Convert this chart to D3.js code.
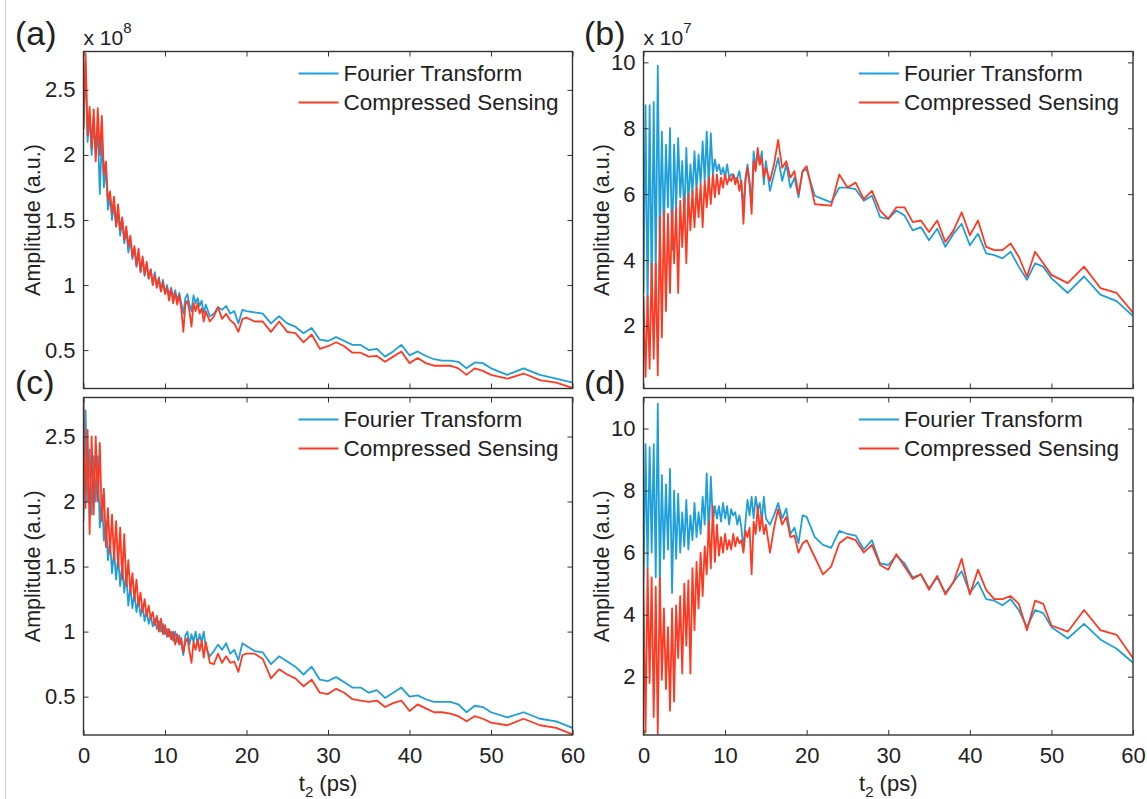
<!DOCTYPE html>
<html>
<head>
<meta charset="utf-8">
<script src="https://cdn.jsdelivr.net/npm/d3@7"></script>
<style>
  body { margin: 0; background: #fff; }
  svg { display: block; }
  text { font-family: "Liberation Sans", Arial, Helvetica, sans-serif; fill: #222; }
</style>
</head>
<body>
<svg id="chart" width="1147" height="799"></svg>
<script>
// t2 sampling (ps), shared by all four panels
const t2 = [0,0.25,0.5,0.75,1,1.25,1.5,1.75,2,2.25,2.5,2.75,3,3.25,3.5,3.75,4,4.25,4.5,4.75,
  5,5.25,5.5,5.75,6,6.25,6.5,6.75,7,7.25,7.5,7.75,8,8.25,8.5,8.75,9,9.25,9.5,9.75,
  10,10.25,10.5,10.75,11,11.25,11.5,11.75,12,12.25,12.5,12.75,13,13.25,13.5,13.75,14,14.25,14.5,14.75,15,
  15.5,16,16.5,17,17.5,18,18.5,19,19.5,
  20,21,22,23,24,25,26,27,28,29,30,31,32,33,34,35,36,37,38,39,40,41,42,43,44,45,46,47,48,49,50,
  52,54,56,58,60];

// (a) x 10^8
const ftA = [2.2,2.72,2.1,2.3,2.0,2.25,2.0,2.2,1.7,2.15,
  1.75,1.9,1.58,1.68,1.5,1.62,1.45,1.55,1.38,1.5,
  1.32,1.42,1.25,1.35,1.2,1.28,1.14,1.25,1.1,1.2,
  1.07,1.16,1.05,1.12,1.01,1.1,0.98,1.06,0.96,1.04,
  0.94,1.0,0.92,0.98,0.9,0.96,0.88,0.94,0.86,0.78,
  0.9,0.93,0.85,0.8,0.92,0.86,0.9,0.84,0.88,0.78,
  0.85,
  0.76,0.78,0.83,0.81,0.84,0.78,0.80,0.705,0.81,
  0.80,0.79,0.78,0.705,0.76,0.705,0.68,0.63,0.67,0.58,0.57,0.60,0.57,0.54,0.54,0.50,
  0.51,0.45,0.49,0.54,0.46,0.49,0.455,0.43,0.42,0.42,0.41,0.36,0.405,0.40,0.36,
  0.31,0.36,0.31,0.28,0.25];
const csA = [2.2,2.78,2.15,2.37,2.05,2.35,1.95,2.36,2.0,2.3,
  1.85,1.95,1.65,1.72,1.55,1.68,1.45,1.62,1.42,1.52,
  1.35,1.45,1.3,1.38,1.22,1.3,1.15,1.28,1.1,1.22,
  1.08,1.18,1.05,1.12,1.0,1.08,0.98,1.05,0.95,1.02,
  0.93,0.98,0.88,0.97,0.86,0.94,0.85,0.92,0.82,0.64,
  0.85,0.88,0.8,0.68,0.86,0.8,0.86,0.78,0.82,0.72,
  0.8,
  0.72,0.76,0.83,0.74,0.78,0.73,0.705,0.64,0.74,
  0.75,0.72,0.72,0.64,0.72,0.64,0.63,0.56,0.62,0.51,0.53,0.56,0.53,0.48,0.48,0.45,
  0.455,0.41,0.45,0.49,0.40,0.44,0.40,0.38,0.38,0.38,0.36,0.31,0.36,0.34,0.31,
  0.28,0.32,0.27,0.25,0.21];

// (b) x 10^7
const ftB = [3.0,8.7,2.4,8.7,3.0,8.8,3.5,9.9,4.5,7.9,
  4.8,7.5,5.6,8.0,4.3,7.5,5.5,7.7,5.9,7.0,
  5.2,7.4,5.7,6.9,6.0,7.3,6.1,7.2,6.3,7.6,
  6.4,7.9,6.2,7.85,6.6,7.05,6.7,6.9,6.6,6.8,
  6.5,6.9,6.5,6.6,6.6,6.45,6.5,6.7,6.3,5.6,
  6.5,6.9,6.4,5.7,7.3,6.8,7.3,6.9,7.3,6.3,
  7.0,
  6.1,6.6,7.1,6.4,6.9,6.2,6.5,5.9,6.7,
  6.75,5.95,5.85,5.75,6.2,6.2,6.15,5.8,5.95,5.3,5.25,5.5,5.35,4.9,5.0,4.6,
  4.95,4.4,4.8,5.1,4.45,4.8,4.2,4.15,4.05,4.25,3.8,3.4,3.9,3.8,3.45,
  3.0,3.5,2.95,2.75,2.3];
const csB = [2.9,0.45,2.9,0.7,3.9,1.0,3.9,0.5,5.3,1.65,
  5.5,2.45,5.4,3.0,5.5,3.9,5.6,3.0,5.8,4.4,
  5.9,3.9,6.0,4.9,6.1,5.0,6.2,5.3,6.3,5.0,
  6.4,5.6,6.5,5.7,6.6,5.9,6.6,6.0,6.5,6.2,
  6.6,6.3,6.5,6.4,6.6,6.3,6.5,6.1,6.4,5.1,
  6.4,6.8,6.3,5.4,7.0,6.7,7.4,6.9,7.1,6.5,
  6.8,
  6.4,6.9,7.65,6.8,7.0,6.5,6.7,6.0,6.7,
  6.85,5.7,5.67,5.65,6.6,6.2,6.35,5.85,6.1,5.5,5.25,5.6,5.6,5.15,5.2,4.85,
  5.2,4.55,4.9,5.45,4.75,5.2,4.4,4.3,4.3,4.5,4.1,3.5,4.25,3.9,3.55,
  3.3,3.8,3.15,3.0,2.4];

// (c) x 10^8
const ftC = [1.85,2.7,2.0,2.4,1.9,2.35,2.0,2.35,1.8,2.05,
  1.7,1.85,1.55,1.7,1.45,1.62,1.4,1.58,1.35,1.52,
  1.3,1.45,1.2,1.35,1.18,1.3,1.15,1.25,1.12,1.2,
  1.08,1.16,1.06,1.12,1.04,1.1,1.02,1.08,1.0,1.06,
  0.98,1.02,0.96,1.0,0.93,1.0,0.92,0.97,0.9,0.82,
  0.97,1.0,0.9,0.98,0.92,1.0,0.9,0.98,0.92,1.0,
  0.88,
  0.81,0.85,0.90,0.86,0.91,0.83,0.86,0.78,0.91,
  0.89,0.85,0.84,0.75,0.81,0.77,0.73,0.67,0.73,0.63,0.62,0.65,0.61,0.57,0.57,0.53,
  0.55,0.49,0.53,0.57,0.50,0.51,0.48,0.46,0.46,0.46,0.44,0.38,0.43,0.42,0.38,
  0.34,0.38,0.33,0.31,0.26];
const csC = [2.8,1.95,2.55,1.75,2.5,1.9,2.5,2.0,2.45,1.85,
  2.1,1.65,1.95,1.6,1.9,1.55,1.85,1.5,1.8,1.4,
  1.75,1.35,1.55,1.3,1.45,1.25,1.4,1.2,1.3,1.15,
  1.25,1.12,1.2,1.1,1.15,1.05,1.12,1.0,1.1,0.98,
  1.05,0.96,1.02,0.94,1.0,0.9,0.98,0.9,0.95,0.84,
  0.92,0.95,0.85,0.76,0.92,0.86,0.94,0.85,0.93,0.8,
  0.92,
  0.76,0.75,0.83,0.76,0.81,0.76,0.77,0.69,0.82,
  0.83,0.83,0.79,0.64,0.71,0.67,0.64,0.58,0.63,0.53,0.52,0.56,0.53,0.48,0.47,0.46,
  0.47,0.42,0.45,0.47,0.39,0.44,0.41,0.38,0.38,0.37,0.35,0.31,0.35,0.33,0.30,
  0.28,0.33,0.28,0.26,0.21];

// (d) x 10^7
const ftD = [4.8,9.5,5.5,9.4,6.0,9.5,5.2,10.8,4.9,8.5,
  5.8,8.2,6.1,8.7,4.7,8.0,5.8,7.9,6.0,7.3,
  6.2,7.7,6.1,7.2,6.4,7.6,6.5,7.3,6.6,7.8,
  6.9,8.55,6.5,8.45,7.0,7.5,7.1,7.5,7.0,7.6,
  7.1,7.5,6.9,7.4,7.2,7.3,6.9,7.2,6.8,6.1,
  7.0,7.7,7.2,7.8,7.1,7.8,7.4,7.6,7.0,7.8,
  7.1,
  6.9,7.2,7.6,7.1,7.42,6.6,6.8,6.3,7.2,
  7.15,6.5,6.25,6.15,6.7,6.6,6.55,6.1,6.4,5.65,5.6,5.9,5.65,5.2,5.3,4.85,
  5.2,4.7,5.05,5.4,4.7,5.05,4.5,4.45,4.3,4.5,4.15,3.6,4.15,4.05,3.6,
  3.23,3.7,3.2,2.9,2.45];
const csD = [4.8,0.2,5.5,1.8,5.2,0.7,4.9,0.15,5.2,1.9,
  4.2,1.6,3.6,0.9,4.2,1.2,4.3,2.6,4.6,2.1,
  5.0,3.0,5.1,2.1,5.5,3.5,5.7,4.2,6.0,4.6,
  6.2,5.3,7.0,5.5,7.5,5.7,6.9,5.9,6.5,6.0,
  6.6,6.1,6.4,6.1,6.6,6.2,6.5,6.3,6.4,6.0,
  6.7,6.5,6.8,5.3,7.0,6.6,7.5,6.7,7.2,6.6,
  6.9,
  6.0,6.8,7.4,6.9,7.15,6.5,6.55,6.0,6.3,
  6.4,5.85,5.3,5.55,6.3,6.5,6.4,6.0,6.25,5.6,5.45,5.95,5.55,5.15,5.3,4.8,
  5.25,4.65,5.05,5.8,4.65,5.45,4.8,4.5,4.5,4.6,4.35,3.5,4.45,4.35,3.65,
  3.45,4.15,3.5,3.35,2.6];

const xTicks = [0, 10, 20, 30, 40, 50, 60];
const yTicksAC = [0.5, 1, 1.5, 2, 2.5];
const yTicksBD = [2, 4, 6, 8, 10];
const yDomA = [0.205, 2.795];
const yDomB = [0.1, 10.33];
const yDomC = [0.205, 2.8];
const yDomD = [0.12, 11.0];
const seriesNames = ["Fourier Transform", "Compressed Sensing"];
const seriesColors = ["#1f9fd9", "#ff3a22"];

const panels = [
  { label: "(a)", exp: "8", ft: ftA, cs: csA, yDom: yDomA, yTicks: yTicksAC, col: 0, row: 0 },
  { label: "(b)", exp: "7", ft: ftB, cs: csB, yDom: yDomB, yTicks: yTicksBD, col: 1, row: 0 },
  { label: "(c)", exp: null, ft: ftC, cs: csC, yDom: yDomC, yTicks: yTicksAC, col: 0, row: 1 },
  { label: "(d)", exp: null, ft: ftD, cs: csD, yDom: yDomD, yTicks: yTicksBD, col: 1, row: 1 }
];

const cols = [{ x0: 83.5, x1: 572.5, ylab: 32 }, { x0: 643.5, x1: 1133, ylab: 601 }];
const rows = [{ y0: 51.5, y1: 388.5 }, { y0: 397.5, y1: 735 }];

const svg = d3.select("#chart");

// thin grey border line at the far left of the original figure
svg.append("line")
  .attr("x1", 5.5).attr("x2", 5.5).attr("y1", 0).attr("y2", 799)
  .attr("stroke", "#d0d0d0").attr("stroke-width", 1);

panels.forEach((p, pi) => {
  const c = cols[p.col], r = rows[p.row];
  const x = d3.scaleLinear().domain([0, 60]).range([c.x0, c.x1]);
  const y = d3.scaleLinear().domain(p.yDom).range([r.y1, r.y0]);
  const g = svg.append("g");

  const clipId = "clip" + pi;
  svg.append("clipPath").attr("id", clipId)
    .append("rect")
    .attr("x", c.x0).attr("y", r.y0)
    .attr("width", c.x1 - c.x0).attr("height", r.y1 - r.y0);

  const line = d3.line()
    .x((d, i) => x(t2[i]))
    .y(d => y(d));

  g.append("g").attr("clip-path", `url(#${clipId})`)
    .selectAll("path")
    .data([p.ft, p.cs])
    .join("path")
    .attr("fill", "none")
    .attr("stroke", (d, i) => seriesColors[i])
    .attr("stroke-width", 1.8)
    .attr("stroke-linejoin", "round")
    .attr("d", line);

  // axes, MATLAB style: ticks inside on all four sides
  const styleAxis = sel => {
    sel.select(".domain").remove();
    sel.selectAll(".tick line").attr("stroke", "#333");
    sel.selectAll(".tick text")
      .style("font-family", '"Liberation Sans", Arial, sans-serif')
      .style("font-size", "22px")
      .attr("fill", "#222");
  };

  g.append("g")
    .attr("transform", `translate(0,${r.y1})`)
    .call(d3.axisBottom(x).tickValues(xTicks).tickSizeInner(-5).tickSizeOuter(0).tickPadding(12)
      .tickFormat(p.row === 1 ? d3.format("d") : ""))
    .call(styleAxis);
  g.append("g")
    .attr("transform", `translate(0,${r.y0})`)
    .call(d3.axisTop(x).tickValues(xTicks).tickSizeInner(-5).tickSizeOuter(0).tickFormat(""))
    .call(styleAxis);
  g.append("g")
    .attr("transform", `translate(${c.x0},0)`)
    .call(d3.axisLeft(y).tickValues(p.yTicks).tickSizeInner(-5).tickSizeOuter(0).tickPadding(8)
      .tickFormat(d => String(d)))
    .call(styleAxis);
  g.append("g")
    .attr("transform", `translate(${c.x1},0)`)
    .call(d3.axisRight(y).tickValues(p.yTicks).tickSizeInner(-5).tickSizeOuter(0).tickFormat(""))
    .call(styleAxis);

  g.append("rect")
    .attr("x", c.x0).attr("y", r.y0)
    .attr("width", c.x1 - c.x0).attr("height", r.y1 - r.y0)
    .attr("fill", "none").attr("stroke", "#333").attr("stroke-width", 1.4);

  // legend
  const lg = g.append("g");
  seriesNames.forEach((name, i) => {
    const ly = r.y0 + 22 + i * 29;
    lg.append("line")
      .attr("x1", c.x1 - 274).attr("x2", c.x1 - 234)
      .attr("y1", ly).attr("y2", ly)
      .attr("stroke", seriesColors[i]).attr("stroke-width", 1.8);
    lg.append("text")
      .attr("x", c.x1 - 229).attr("y", ly).attr("dy", "0.35em")
      .style("font-size", "22.5px")
      .text(name);
  });

  // y label
  g.append("text")
    .attr("transform", `translate(${c.ylab},${(r.y0 + r.y1) / 2}) rotate(-90)`)
    .attr("text-anchor", "middle")
    .attr("dy", "0.35em")
    .style("font-size", "21.5px")
    .text("Amplitude (a.u.)");

  // x label, bottom row only
  if (p.row === 1) {
    const xl = g.append("text")
      .attr("x", (c.x0 + c.x1) / 2).attr("y", 791)
      .attr("text-anchor", "middle")
      .style("font-size", "22px");
    xl.append("tspan").text("t");
    xl.append("tspan").attr("dy", 6).style("font-size", "15px").text("2");
    xl.append("tspan").attr("dy", -6).text(" (ps)");
  }

  // exponent
  if (p.exp) {
    const ex = g.append("text")
      .attr("x", c.x0).attr("y", r.y0 - 7)
      .style("font-size", "21px");
    ex.append("tspan").text("x 10");
    ex.append("tspan").attr("dy", -12).style("font-size", "15px").text(p.exp);
  }

  // panel label
  g.append("text")
    .attr("x", p.col === 0 ? 15 : 584)
    .attr("y", p.row === 0 ? 45 : 394)
    .style("font-size", "34px")
    .attr("fill", "#111")
    .text(p.label);
});
</script>
</body>
</html>
